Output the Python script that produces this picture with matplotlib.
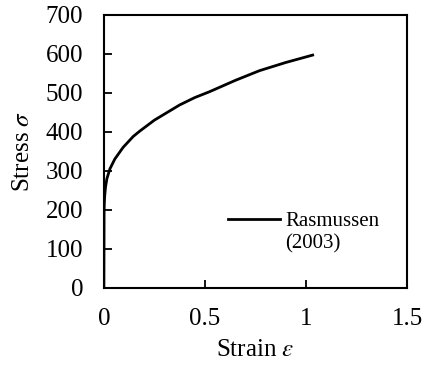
import numpy as np
import matplotlib
matplotlib.use('Agg')
import matplotlib.pyplot as plt
from matplotlib.lines import Line2D

plt.rcParams['font.family'] = 'Liberation Serif'
plt.rcParams['mathtext.fontset'] = 'stix'

# Rasmussen (2003) stress-strain curve
strain = [0, 0.001, 0.002, 0.004, 0.008, 0.015, 0.03, 0.054, 0.095, 0.145,
          0.178, 0.25, 0.375, 0.45, 0.523, 0.65, 0.77, 0.9, 1.033]
stress = [0, 195, 215, 235, 258, 280, 305, 330, 360, 388,
          402, 430, 469, 488, 503, 532, 557, 578, 597]

xticks = [0, 0.5, 1, 1.5]
xticklabels = ['0', '0.5', '1', '1.5']
yticks = [0, 100, 200, 300, 400, 500, 600, 700]

fig = plt.figure(figsize=(4.24, 3.65), dpi=100)
ax = fig.add_axes([0.245, 0.212, 0.715, 0.747])

line, = ax.plot(strain, stress, color='black', lw=2)

ax.set_xlim(0, 1.5)
ax.set_ylim(0, 700)
ax.set_xticks(xticks)
ax.set_xticklabels(xticklabels)
ax.set_yticks(yticks)
ax.tick_params(direction='in', length=5.5, width=1.3, labelsize=18, pad=15)
for s in ax.spines.values():
    s.set_linewidth(1.5)

ax.set_xlabel(r'Strain $\varepsilon$', fontsize=18, labelpad=6)
ax.set_ylabel(r'Stress $\sigma$', fontsize=18, labelpad=8)

blank = Line2D([], [], color='none')
ax.legend([line, blank], ['Rasmussen', '(2003)'], loc='upper left',
          bbox_to_anchor=(0.383, 0.31), frameon=False, fontsize=15,
          handlelength=2.5, handletextpad=0.25, labelspacing=0.15,
          borderaxespad=0)

fig.savefig('out.png', dpi=100)
